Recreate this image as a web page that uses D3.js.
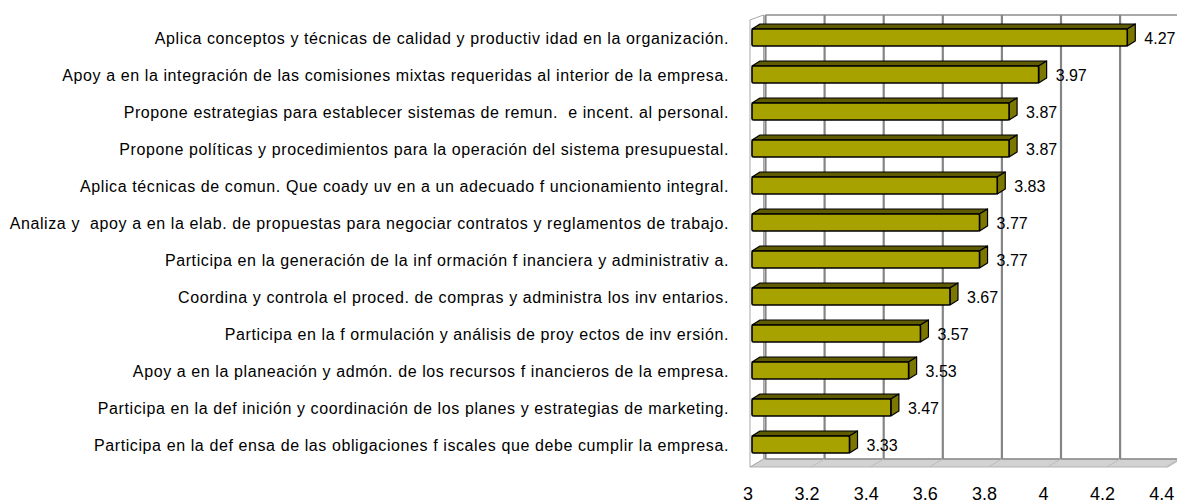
<!DOCTYPE html>
<html>
<head>
<meta charset="utf-8">
<script src="https://cdn.jsdelivr.net/npm/d3@7"></script>
<style>
  html, body { margin: 0; padding: 0; background: #fff; }
  svg { display: block; font-family: "Liberation Sans", Arial, sans-serif; }
</style>
</head>
<body>
<div id="chart"></div>
<script>

// Datos //////////////////////////////////////////////////////////////////////

const categorias = [
  'Aplica conceptos y técnicas de calidad y productiv idad en la organización.',
  'Apoy a en la integración de las comisiones mixtas requeridas al interior de la empresa.',
  'Propone estrategias para establecer sistemas de remun.  e incent. al personal.',
  'Propone políticas y procedimientos para la operación del sistema presupuestal.',
  'Aplica técnicas de comun. Que coady uv en a un adecuado f uncionamiento integral.',
  'Analiza y  apoy a en la elab. de propuestas para negociar contratos y reglamentos de trabajo.',
  'Participa en la generación de la inf ormación f inanciera y administrativ a.',
  'Coordina y controla el proced. de compras y administra los inv entarios.',
  'Participa en la f ormulación y análisis de proy ectos de inv ersión.',
  'Apoy a en la planeación y admón. de los recursos f inancieros de la empresa.',
  'Participa en la def inición y coordinación de los planes y estrategias de marketing.',
  'Participa en la def ensa de las obligaciones f iscales que debe cumplir la empresa.'
];

const valores = [4.27, 3.97, 3.87, 3.87, 3.83, 3.77, 3.77, 3.67, 3.57, 3.53, 3.47, 3.33];

const ticks = [3, 3.2, 3.4, 3.6, 3.8, 4, 4.2, 4.4];

// ━━━━━━━━━━━━━━━━━━━━━━━━━━━━━━━━━━━━━━━━━━━━━━━━━━━━━━━━━━━━━━━━━━━━━━━━━━━━━━
// SVG setup //////////////////////////////////////////////////////////////////
// ━━━━━━━━━━━━━━━━━━━━━━━━━━━━━━━━━━━━━━━━━━━━━━━━━━━━━━━━━━━━━━━━━━━━━━━━━━━━━━

const width = 1177;
const height = 504;

const svg = d3.select('#chart').append('svg')
  .attr('viewBox', [0, 0, width, height])
  .attr('width', width)
  .attr('height', height);

const    paredes = svg.append('g').attr('id', 'paredes');
const     grilla = svg.append('g').attr('id', 'grilla');
const     barras = svg.append('g').attr('id', 'barras');
const   etiqueta = svg.append('g').attr('id', 'etiquetas');
const       ejeX = svg.append('g').attr('id', 'eje-x');

// Escalas: frente del grafico y pared del fondo (profundidad 3D)
const wallDx = 13.5, wallDy = 8;       // profundidad de paredes
const barDx = 8, barDy = 5;            // profundidad de cada barra

const x = d3.scaleLinear().domain([3, 4.4]).range([752, 752 + 1.4 * 295.5]);
const xb = v => x(v) + wallDx;

const yTop = 15, yBottom = 459;
const y = d3.scaleBand()
  .domain(categorias)
  .range([yTop - 1, yBottom - 1])
  .paddingInner(0.54)
  .paddingOuter(0.27);

// ━━━━━━━━━━━━━━━━━━━━━━━━━━━━━━━━━━━━━━━━━━━━━━━━━━━━━━━━━━━━━━━━━━━━━━━━━━━━━━
// Paredes y piso ///////////////////////////////////////////////////////////////
// ━━━━━━━━━━━━━━━━━━━━━━━━━━━━━━━━━━━━━━━━━━━━━━━━━━━━━━━━━━━━━━━━━━━━━━━━━━━━━━

const x0 = x(3) - 2;

// piso
paredes.append('polygon')
  .attr('points', [[x0, yBottom + wallDy], [x(4.4) + 2, yBottom + wallDy],
                   [x(4.4) + 2 + wallDx, yBottom], [x0 + wallDx, yBottom]].join(' '))
  .attr('fill', '#d2d2d2')
  .attr('stroke', '#b4b4b4')
  .attr('stroke-width', 1);

// pared izquierda
paredes.append('polygon')
  .attr('points', [[x0, yTop + 5], [x0 + wallDx, yTop], [x0 + wallDx, yBottom], [x0, yBottom + wallDy]].join(' '))
  .attr('fill', '#fff')
  .attr('stroke', '#a8a8a8')
  .attr('stroke-width', 1);

// pared del fondo (bordes)
paredes.append('line')
  .attr('x1', xb(3)).attr('x2', width)
  .attr('y1', yTop).attr('y2', yTop)
  .attr('stroke', '#8c8c8c').attr('stroke-width', 1.5);

paredes.append('line')
  .attr('x1', xb(3)).attr('x2', width)
  .attr('y1', yBottom).attr('y2', yBottom)
  .attr('stroke', '#8c8c8c').attr('stroke-width', 1.5);

// Grilla vertical en la pared del fondo ///////////////////////////////////////

grilla.selectAll('line.v')
  .data(ticks)
  .join('line')
  .attr('class', 'v')
  .attr('x1', d => xb(d)).attr('x2', d => xb(d))
  .attr('y1', yTop).attr('y2', yBottom)
  .attr('stroke', '#858585')
  .attr('stroke-width', 2.2);

grilla.selectAll('line.f')
  .data(ticks.slice(1))
  .join('line')
  .attr('class', 'f')
  .attr('x1', d => xb(d)).attr('x2', d => x(d))
  .attr('y1', yBottom).attr('y2', yBottom + wallDy)
  .attr('stroke', '#bdbdbd')
  .attr('stroke-width', 1);

// ━━━━━━━━━━━━━━━━━━━━━━━━━━━━━━━━━━━━━━━━━━━━━━━━━━━━━━━━━━━━━━━━━━━━━━━━━━━━━━
// Barras 3D ////////////////////////////////////////////////////////////////////
// ━━━━━━━━━━━━━━━━━━━━━━━━━━━━━━━━━━━━━━━━━━━━━━━━━━━━━━━━━━━━━━━━━━━━━━━━━━━━━━

const datos = categorias.map((c, i) => ({ cat: c, val: valores[i] }));

const barra = barras.selectAll('g')
  .data(datos)
  .join('g')
  .attr('data-cat', d => d.cat)
  .attr('data-val', d => d.val);

// cara superior
barra.append('polygon')
  .attr('points', d => {
    const t = y(d.cat) + barDy, xs = x(3), xe = x(d.val);
    return [[xs, t], [xe, t], [xe + barDx, t - barDy], [xs + barDx, t - barDy]].join(' ');
  })
  .attr('fill', '#5f5b00')
  .attr('stroke', '#000')
  .attr('stroke-width', 1.2)
  .attr('stroke-linejoin', 'round');

// cara lateral
barra.append('polygon')
  .attr('points', d => {
    const t = y(d.cat) + barDy, b = t + y.bandwidth(), xe = x(d.val);
    return [[xe, t], [xe + barDx, t - barDy], [xe + barDx, b - barDy], [xe, b]].join(' ');
  })
  .attr('fill', '#7b7700')
  .attr('stroke', '#000')
  .attr('stroke-width', 1.2)
  .attr('stroke-linejoin', 'round');

// cara frontal
barra.append('rect')
  .attr('x', x(3))
  .attr('y', d => y(d.cat) + barDy)
  .attr('width', d => x(d.val) - x(3))
  .attr('height', y.bandwidth())
  .attr('fill', '#a8a200')
  .attr('stroke', '#000')
  .attr('stroke-width', 1.6)
  .attr('rx', 1.5);

// valores
barra.append('text')
  .attr('x', d => x(d.val) + 17)
  .attr('y', d => y(d.cat) + barDy + y.bandwidth() / 2 + 1)
  .attr('dy', '0.36em')
  .attr('font-size', 16)
  .attr('fill', '#000')
  .text(d => d.val.toFixed(2));

// ━━━━━━━━━━━━━━━━━━━━━━━━━━━━━━━━━━━━━━━━━━━━━━━━━━━━━━━━━━━━━━━━━━━━━━━━━━━━━━
// Etiquetas de categoria y eje X ///////////////////////////////////////////////
// ━━━━━━━━━━━━━━━━━━━━━━━━━━━━━━━━━━━━━━━━━━━━━━━━━━━━━━━━━━━━━━━━━━━━━━━━━━━━━━

etiqueta.selectAll('text')
  .data(categorias)
  .join('text')
  .attr('x', 729)
  .attr('y', d => y(d) + barDy + y.bandwidth() / 2 + 1)
  .attr('dy', '0.36em')
  .attr('text-anchor', 'end')
  .attr('font-size', 16)
  .attr('letter-spacing', 0.6)
  .attr('fill', '#000')
  .attr('xml:space', 'preserve')
  .style('white-space', 'pre')
  .text(d => d);

ejeX.selectAll('text')
  .data(ticks)
  .join('text')
  .attr('x', d => x(d) - 4)
  .attr('y', 500)
  .attr('text-anchor', 'middle')
  .attr('font-size', 18)
  .attr('fill', '#000')
  .text(d => d);

</script>
</body>
</html>
